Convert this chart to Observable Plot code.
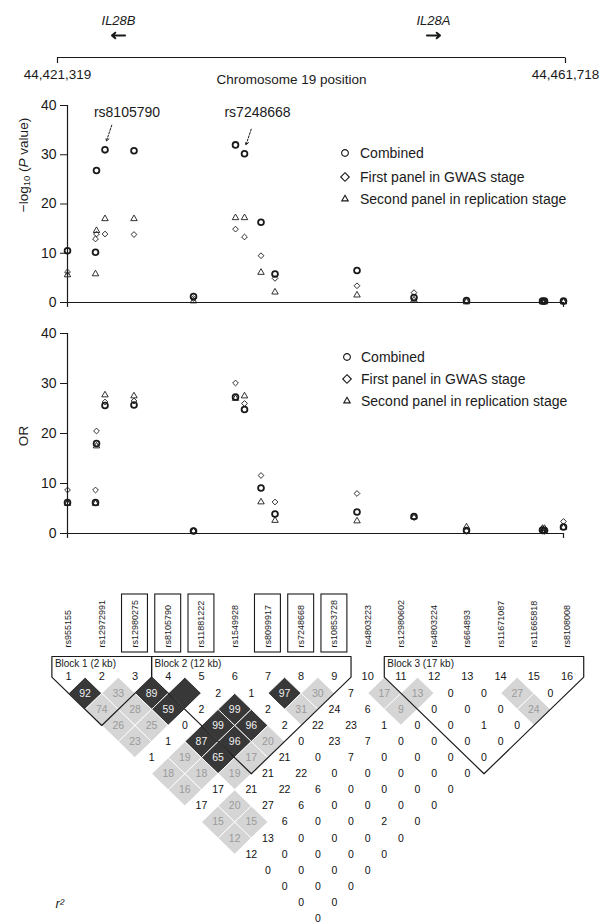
<!DOCTYPE html>
<html>
<head>
<meta charset="utf-8">
<script src="https://cdn.jsdelivr.net/npm/d3@7"></script>
<script src="https://cdn.jsdelivr.net/npm/@observablehq/plot@0.6"></script>
<style>
html,body{margin:0;padding:0;background:#fff;}
#wrap{position:relative;width:602px;height:924px;overflow:hidden;font-family:"Liberation Sans",Arial,Helvetica,sans-serif;color:#1a1a1a;}
#wrap svg{overflow:visible;}
.legtxt{position:absolute;white-space:nowrap;font-size:14px;line-height:16px;}
.legsym{position:absolute;width:16px;height:16px;}
</style>
</head>
<body>
<div id="wrap"></div>
<script>
// ---------------- DATA ----------------
const snpIds = ["rs955155","rs12972991","rs12980275","rs8105790","rs11881222","rs1549928","rs8099917","rs7248668","rs10853728","rs4803223","rs12980602","rs4803224","rs664893","rs11671087","rs11665818","rs8108008"];
const snpPos = [44421319,44423600,44423681,44424373,44426735,44431582,44435003,44435736,44437080,44438220,44444899,44449541,44453818,44460008,44460171,44461718];
const boxedSnps = ["rs12980275","rs8105790","rs11881222","rs8099917","rs7248668","rs10853728"];
const annotatedSnps = ["rs8105790","rs7248668"];

// -log10(P)
const pCombined = [10.5,10.2,26.8,31.0,30.8,1.2,32.0,30.2,16.3,5.8,6.5,1.0,0.4,0.3,0.3,0.3];
const pFirst    = [6.2,12.9,13.9,13.9,13.8,0.8,14.9,13.3,9.5,4.9,3.4,2.0,0.3,0.2,0.2,0.2];
const pSecond   = [5.6,5.8,14.6,17.0,17.0,0.3,17.2,17.2,6.1,2.1,1.5,0.5,0.1,0.1,0.1,0.1];
// OR
const orCombined = [6.2,6.2,18.0,25.6,25.7,0.5,27.3,24.8,9.1,3.9,4.3,3.4,0.6,0.7,0.6,1.3];
const orFirst    = [8.7,8.7,20.5,26.3,26.5,0.5,30.1,26.0,11.6,6.3,8.0,3.2,0.5,0.5,0.5,2.4];
const orSecond   = [6.0,6.0,17.5,27.7,27.5,0.5,27.0,27.5,6.3,2.6,2.5,3.3,1.3,1.0,1.0,1.2];

const legendLabels = ["Combined","First panel in GWAS stage","Second panel in replication stage"];

const geneNames = ["IL28B","IL28A"];
const genePos = [44426170,44451220];
const geneStrand = [-1,1];
const axisTitle = "Chromosome 19 position";

// LD r2 (x100), listed by distance k = j - i (row 1 = adjacent pairs)
const ldR2 = [
 [92,33,89,100,2,1,97,30,7,17,13,0,0,27,0],
 [74,28,59,2,99,2,31,24,6,9,0,0,0,24],
 [26,25,0,99,96,2,22,23,1,0,0,1,0],
 [23,1,87,96,20,0,23,7,0,0,0,0],
 [1,19,65,17,21,0,7,0,0,0,0],
 [18,18,19,21,22,0,0,0,0,0],
 [16,17,21,22,6,0,0,0,0],
 [17,20,27,6,0,0,0,0],
 [15,15,6,0,0,2,0],
 [12,13,0,0,0,0],
 [12,0,0,0,0],
 [0,0,0,0],
 [0,0,0],
 [0,0],
 [0]
];
// LD strength class: H = strong, M = moderate, L = weak
const ldClass = [
 "HMHHLLHMLMMLLML",
 "MMHLHLMLLMLLLM",
 "MMLHHLLLLLLLL",
 "MLHHMLLLLLLL",
 "LMHMLLLLLLL",
 "MMMLLLLLLL",
 "MLLLLLLLL",
 "LMLLLLLL",
 "MMLLLLL",
 "MLLLLL",
 "LLLLL","LLLL","LLL","LL","L"
];
const blockNames = ["Block 1 (2 kb)","Block 2 (12 kb)","Block 3 (17 kb)"];
const blockStart = [1,4,11];
const blockEnd = [3,9,16];

// ---------------- BUILD ----------------
const W = 602;
const FONT = '"Liberation Sans", Arial, Helvetica, sans-serif';
const INK = "#1a1a1a";
const wrap = document.getElementById("wrap");
function place(node, y){ node.style.position="absolute"; node.style.left="0px"; node.style.top=y+"px"; wrap.appendChild(node); }

const snps = snpIds.map((id,i)=>({
  idx:i+1, id, pos:snpPos[i], boxed: boxedSnps.includes(id),
  pComb:pCombined[i], pFirst:pFirst[i], pSecond:pSecond[i],
  orComb:orCombined[i], orFirst:orFirst[i], orSecond:orSecond[i]
}));
const genes = geneNames.map((name,i)=>({name, pos:genePos[i], strand:geneStrand[i]}));
const xDomain = [snpPos[0], snpPos[snpPos.length-1]];
const baseStyle = {fontFamily:FONT, background:"transparent", color:INK, fontSize:"14px", overflow:"visible"};

const tickDown = {draw(ctx){ ctx.moveTo(0,0); ctx.lineTo(0,5.5); }};

// header layout rows (pixel positions in the header band)
const hRow = {gene:20, strand:35, track:57, coord:74};
const headerPlot = Plot.plot({
  width: W, height: 92, margin: 0,
  x: {domain: xDomain, range: [57, 565], axis: null},
  y: {type: "identity"},
  style: baseStyle,
  marks: [
    Plot.text(genes, {x:"pos", y:()=>hRow.gene, text:"name", fontStyle:"italic", fontSize:13, fill:INK}),
    Plot.arrow(genes, {x1:d=>d.pos - d.strand*520, x2:d=>d.pos + d.strand*520, y1:()=>hRow.strand, y2:()=>hRow.strand, stroke:INK, strokeWidth:2, headLength:7, headAngle:80}),
    Plot.ruleY([hRow.track], {x1:()=>xDomain[0], x2:()=>xDomain[1], stroke:INK, strokeWidth:1.2}),
    Plot.dot(xDomain, {x:d=>d, y:()=>hRow.track, symbol:tickDown, r:3, fill:"none", stroke:INK, strokeWidth:1.2}),
    Plot.text(xDomain, {x:d=>d, y:()=>hRow.coord, text:d=>d3.format(",")(d), fontSize:13.5, fill:INK}),
    Plot.text([axisTitle], {x:()=>(xDomain[0]+xDomain[1])/2, y:()=>hRow.coord, dx:-20, dy:5, text:d=>d, fontSize:13.5, fill:INK})
  ]
});
place(headerPlot, 0);

function panel({height, mTop, mBottom, keys}){
  const [kc, kf, ks] = keys;
  return Plot.plot({
    width: W, height, marginLeft: 67, marginRight: 39, marginTop: mTop, marginBottom: mBottom,
    x: {domain: xDomain, axis: null},
    y: {domain: [0, 40], axis: null},
    style: baseStyle,
    marks: [
      Plot.axisY({ticks:[0,10,20,30,40], tickSize:7, tickPadding:4, label:null, fontSize:14, stroke:INK, fill:INK}),
      Plot.ruleX([xDomain[0]], {y1:()=>40, y2:()=>-1, stroke:INK, strokeWidth:1.2}),
      Plot.ruleY([0], {x1:()=>xDomain[0], x2:()=>xDomain[1], stroke:INK, strokeWidth:1.2}),
      Plot.ruleX([xDomain[1]], {y1:()=>0, y2:()=>-1, stroke:INK, strokeWidth:1.2}),
      Plot.dot(snps, {x:"pos", y:ks, symbol:"triangle", r:2.4, fill:"none", stroke:INK, strokeWidth:0.9}),
      Plot.dot(snps, {x:"pos", y:kf, symbol:"diamond2", r:2.6, fill:"none", stroke:INK, strokeWidth:0.9}),
      Plot.dot(snps, {x:"pos", y:kc, symbol:"circle", r:2.9, fill:"none", stroke:INK, strokeWidth:1.8})
    ]
  });
}
// rotated y-axis title with subscript / italic parts, appended into a panel's SVG
function addYTitle(svg, cx, cy, parts){
  const t = d3.select(svg).append("text")
    .attr("transform", `translate(${cx},${cy}) rotate(-90)`)
    .attr("text-anchor","middle").attr("dominant-baseline","central")
    .attr("font-family", FONT).attr("font-size", 13.5).attr("fill", INK);
  parts.forEach(p=>{
    const s = t.append("tspan").text(p.t);
    if (p.sub) s.attr("font-size", 9.5).attr("dy", 3);
    if (p.up) s.attr("dy", -3);
    if (p.it) s.attr("font-style","italic");
  });
}

const topPanelPlot = panel({height:230, mTop:15, mBottom:18, keys:["pComb","pFirst","pSecond"]});
addYTitle(topPanelPlot, 23, 75, [{t:"\u2212log"},{t:"10",sub:true},{t:" (",up:true},{t:"P",it:true},{t:" value)"}]);
const annot = snps.filter(d=>annotatedSnps.includes(d.id));
const annotPlot = Plot.plot({
  width: W, height: 230, marginLeft: 67, marginRight: 39, marginTop: 15, marginBottom: 18,
  x: {domain: xDomain, axis: null},
  y: {domain: [0, 40], axis: null},
  style: baseStyle,
  marks: [
    Plot.text(annot.filter(d=>d.id===annotatedSnps[0]), {x:"pos", y:"pComb", text:"id", dx:22, dy:-37, fontSize:14, fill:INK}),
    Plot.text(annot.filter(d=>d.id===annotatedSnps[1]), {x:"pos", y:"pComb", text:"id", dx:13, dy:-41, fontSize:14, fill:INK}),
    Plot.arrow(annot, {x1:d=>d.pos+550, y1:d=>d.pComb+5, x2:d=>d.pos+120, y2:d=>d.pComb+1.8, stroke:INK, strokeWidth:1, strokeDasharray:"2,1.5", headLength:5})
  ]
});
place(topPanelPlot, 90);
place(annotPlot, 90);

const midPanelPlot = panel({height:232, mTop:15, mBottom:17, keys:["orComb","orFirst","orSecond"]});
addYTitle(midPanelPlot, 23, 118, [{t:"OR"}]);
place(midPanelPlot, 318);

// legends
const legSyms = [[d3.symbolCircle, Math.PI*3.4*3.4],[d3.symbolDiamond2, 47],[d3.symbolTriangle, 18]];
function addLegend(cx, tx, ys){
  legendLabels.forEach((lab,i)=>{
    const [type,size] = legSyms[i];
    const p = d3.symbol(type, size)();
    const s = document.createElement("div");
    s.className="legsym"; s.style.left=(cx-8)+"px"; s.style.top=(ys[i]-8)+"px";
    s.innerHTML = `<svg width="16" height="16"><path transform="translate(8,8)" d="${p}" fill="none" stroke="${INK}" stroke-width="1.1"/></svg>`;
    wrap.appendChild(s);
    const t = document.createElement("div");
    t.className="legtxt"; t.style.left=tx+"px"; t.style.top=(ys[i]-8)+"px"; t.textContent=lab;
    wrap.appendChild(t);
  });
}
addLegend(345, 360, [153,177,199]);
addLegend(347, 361, [357,379,401]);

// LD plot
const ldTop = 555;
const rowH = 16.1, row0 = 676.65;
const cells = [];
ldR2.forEach((row,k0)=>row.forEach((v,i0)=>{
  const i = i0+1, j = i0+2+k0;
  cells.push({i, j, k:k0+1, x:(i+j)/2, r2:v, cls:ldClass[k0][i0]});
}));
const blockPts = [];
const blocks = blockNames.map((name,b)=>({name, a:blockStart[b], e:blockEnd[b]}));
const topY = (656 - row0)/rowH;
blocks.forEach(({name,a,e})=>{
  [[a-0.5,topY],[a-0.5,0],[(a+e)/2,e-a+1],[e+0.5,0],[e+0.5,topY],[a-0.5,topY]]
    .forEach(([x,y])=>blockPts.push({b:name,x,y}));
});
// diamond cell: half-width from the x spacing, half-height from the row spacing
const halfW = 16.6, halfH = rowH;
const diamondSym = {draw(ctx){ ctx.moveTo(0,-halfH); ctx.lineTo(halfW,0); ctx.lineTo(0,halfH); ctx.lineTo(-halfW,0); ctx.closePath(); }};

const ldPlot = Plot.plot({
  width: W, height: 924-ldTop, margin: 0,
  x: {domain:[1,16], range:[68, 566.6], axis:null},
  y: {domain:[0,15], range:[row0-ldTop, row0+15*rowH-ldTop], axis:null},
  color: {domain:["H","M","L"], range:["#383838","#d5d5d5","#ffffff"]},
  style: baseStyle,
  marks: [
    Plot.dot(cells, {x:"x", y:"k", symbol:diamondSym, r:16, fill:"cls", stroke:"#fff", strokeWidth:0.9}),
    Plot.text(cells.filter(d=>d.cls==="H" && d.r2<100), {x:"x", y:"k", text:d=>String(d.r2), fill:"#f0f0f0", fontSize:10.5}),
    Plot.text(cells.filter(d=>d.cls==="M"), {x:"x", y:"k", text:d=>String(d.r2), fill:"#9a9a9a", fontSize:10.5}),
    Plot.text(cells.filter(d=>d.cls==="L"), {x:"x", y:"k", text:d=>String(d.r2), fill:"#111", fontSize:10.5}),
    Plot.line(blockPts, {x:"x", y:"y", z:"b", stroke:INK, strokeWidth:1.2}),
    Plot.text(blocks, {x:d=>d.a-0.5, y:()=>(663-row0)/rowH, text:"name", textAnchor:"start", dx:3, fontSize:10, fill:INK}),
    Plot.text(snps, {x:"idx", y:()=>-0.05, text:d=>String(d.idx), fontSize:11, fill:INK}),
    Plot.rect(snps.filter(d=>d.boxed), {x1:d=>d.idx-0.39, x2:d=>d.idx+0.39, y1:()=>(594-row0)/rowH, y2:()=>(652-row0)/rowH, fill:"none", stroke:INK, strokeWidth:1.1}),
    Plot.text(snps, {x:"idx", y:()=>(647-row0)/rowH, text:"id", rotate:-90, textAnchor:"start", fontSize:9, fill:INK}),
    Plot.text(["r\u00b2"], {frameAnchor:"bottom-left", dx:55, dy:-17, text:d=>d, textAnchor:"start", fontStyle:"italic", fontSize:13, fill:INK})
  ]
});
place(ldPlot, ldTop);
</script>
</body>
</html>
